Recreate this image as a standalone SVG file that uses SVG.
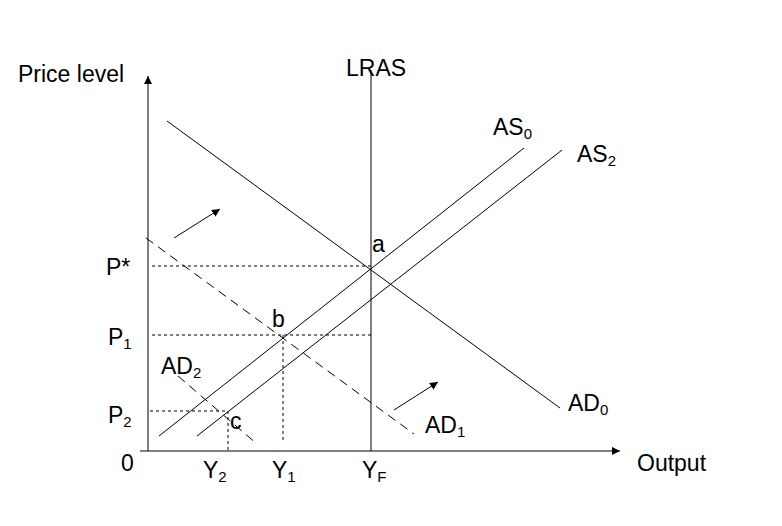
<svg xmlns="http://www.w3.org/2000/svg" width="782" height="526" viewBox="0 0 782 526">
<defs>
<marker id="ah" viewBox="0 0 10 10" refX="10" refY="5" markerWidth="8" markerHeight="8" orient="auto" markerUnits="userSpaceOnUse"><path d="M0,0 L10,5 L0,10 z" fill="#000"/></marker>
</defs>
<style>
.l{stroke:#000;stroke-width:1;fill:none}
.d{stroke:#000;stroke-width:1;fill:none;stroke-dasharray:3,3}
.ld{stroke:#000;stroke-width:1;fill:none;stroke-dasharray:9,6}
text{font-family:"Liberation Sans",Arial,sans-serif;font-size:23px;fill:#000;transform-box:fill-box}
.s{font-size:15px}
</style>
<rect width="782" height="526" fill="#fff"/>
<g id="axes">
<line class="l" x1="148" y1="451" x2="148" y2="76" marker-end="url(#ah)"/>
<line class="l" x1="140" y1="451" x2="620" y2="451" marker-end="url(#ah)"/>
</g>
<g id="connectors">
<line class="l" x1="371" y1="70" x2="371" y2="451"/>
<line class="l" x1="167" y1="121" x2="560" y2="408"/>
<line class="l" x1="159" y1="436" x2="524" y2="148"/>
<line class="l" x1="197" y1="436" x2="562" y2="150"/>
<line class="ld" x1="146" y1="238" x2="414" y2="434"/>
<line class="ld" x1="178" y1="376" x2="257" y2="444"/>
<line class="d" x1="152" y1="266" x2="371" y2="266"/>
<line class="d" x1="152" y1="335" x2="371" y2="335"/>
<line class="d" x1="150" y1="411" x2="228" y2="411"/>
<line class="d" x1="228" y1="411" x2="228" y2="451"/>
<line class="d" x1="283" y1="335" x2="283" y2="440"/>
<line class="l" x1="174" y1="238" x2="220" y2="209" marker-end="url(#ah)"/>
<line class="l" x1="394" y1="410" x2="438" y2="382" marker-end="url(#ah)"/>
</g>
<g id="labels">
<text x="18" y="82">Price level</text>
<text x="346" y="76">LRAS</text>
<text x="493" y="135">AS<tspan class="s" dy="4">0</tspan></text>
<text x="577" y="162">AS<tspan class="s" dy="4">2</tspan></text>
<text x="372" y="252">a</text>
<text x="272" y="327">b</text>
<text x="230" y="429">c</text>
<text x="106" y="275">P*</text>
<text x="108" y="345">P<tspan class="s" dy="4">1</tspan></text>
<text x="108" y="423">P<tspan class="s" dy="4">2</tspan></text>
<text x="121" y="471">0</text>
<text x="161" y="374">AD<tspan class="s" dy="4">2</tspan></text>
<text x="425" y="433">AD<tspan class="s" dy="4">1</tspan></text>
<text x="568" y="411">AD<tspan class="s" dy="4">0</tspan></text>
<text x="203" y="478">Y<tspan class="s" dy="4">2</tspan></text>
<text x="272" y="478">Y<tspan class="s" dy="4">1</tspan></text>
<text x="362" y="478">Y<tspan class="s" dy="4">F</tspan></text>
<text x="637" y="471">Output</text>
</g>
</svg>
